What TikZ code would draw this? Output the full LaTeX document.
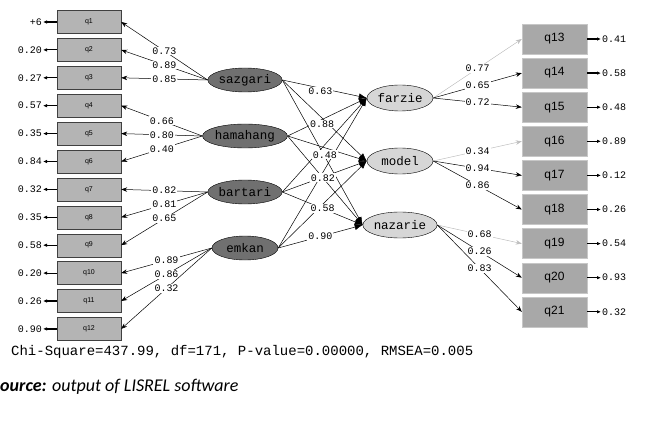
\documentclass[tikz,border=0pt]{standalone}
\usepackage{fontspec}
\setmainfont{Liberation Sans}
\setsansfont{Liberation Sans}
\setmonofont{Liberation Mono}
\newfontfamily\srcfont{Carlito}
\usetikzlibrary{arrows.meta,shapes.geometric}
\definecolor{colObsL}{RGB}{180,180,180}
\definecolor{colObsR}{RGB}{168,168,168}
\definecolor{colKsi}{RGB}{112,112,112}
\definecolor{colEta}{RGB}{214,214,214}
\definecolor{colFix}{RGB}{190,190,190}

\begin{document}
\begin{tikzpicture}[x=1pt, y=-1pt,
    obsL/.style={draw=black!75, fill=colObsL, minimum width=64pt, minimum height=23pt,
      inner sep=0pt, font=\sffamily\fontsize{7}{7}\selectfont},
    obsR/.style={draw=black!22, fill=colObsR, minimum width=65pt, minimum height=30pt,
      inner sep=0pt, font=\sffamily\fontsize{12}{12}\selectfont},
    ksi/.style={ellipse, draw, fill=colKsi, minimum width=66pt, minimum height=24pt,
      inner sep=0pt, font=\ttfamily\fontsize{12.5}{12.5}\selectfont},
    eta/.style={ellipse, draw, fill=colEta, minimum width=66pt, minimum height=26pt,
      inner sep=0pt, font=\ttfamily\fontsize{12.5}{12.5}\selectfont},
    load/.style={-{Stealth[length=6pt,width=4.5pt]}, line width=0.5pt},
    fixd/.style={load, draw=colFix},
    gam/.style={-{Latex[length=8pt,width=6pt]}, line width=0.5pt},
    coef/.style={fill=white, inner sep=1pt, font=\ttfamily\fontsize{10}{10}\selectfont},
    err/.style={inner sep=1pt, font=\ttfamily\fontsize{10}{10}\selectfont},
    erra/.style={-{Latex[length=4pt,width=3.5pt]}, line width=1.2pt}]
  \useasboundingbox (0,0) rectangle (672,425);

  % indicators of the exogenous factors, with their error values
  \foreach \i/\v in {1/+6, 2/0.20, 3/0.27, 4/0.57, 5/0.35, 6/0.84,
                     7/0.32, 8/0.35, 9/0.58, 10/0.20, 11/0.26, 12/0.90} {
    \node[obsL] (q\i) at (89,{22+27.9*(\i-1)}) {q\i};
    \node[err, anchor=east] (d\i) at (43,{22+27.9*(\i-1)}) {\v};
    \draw[erra] (q\i.west) -- (d\i.east);
  }

  % indicators of the endogenous factors
  \foreach \j/\v in {13/0.41, 14/0.58, 15/0.48, 16/0.89, 17/0.12,
                     18/0.26, 19/0.54, 20/0.93, 21/0.32} {
    \node[obsR] (q\j) at (554.5,{39+34.1*(\j-13)}) {q\j};
    \node[err, anchor=west] (d\j) at (601,{39+34.1*(\j-13)}) {\v};
    \draw[erra] (q\j.east) -- (d\j.west);
  }

  % latent variables
  \node[ksi] (sazgari)  at (245,80)  {sazgari};
  \node[ksi] (hamahang) at (245,136) {hamahang};
  \node[ksi] (bartari)  at (245,192) {bartari};
  \node[ksi] (emkan)    at (245,248) {emkan};
  \node[eta] (farzie)   at (400,98)  {farzie};
  \node[eta] (model)    at (400,161) {model};
  \node[eta, minimum width=68pt] (nazarie) at (400,225) {nazarie};

  % structural paths without printed values
  \foreach \a/\b in {sazgari/nazarie, hamahang/farzie, bartari/farzie,
                     bartari/model, emkan/farzie, emkan/model}
    \draw[gam] (\a.east) -- (\b.west);
  % structural paths with values
  \draw[gam] (sazgari.east)  -- node[coef, pos=0.45, yshift=-3pt] {0.63} (farzie.west);
  \draw[gam] (sazgari.east)  -- node[coef, pos=0.47, yshift=-6pt] {0.88} (model.west);
  \draw[gam] (hamahang.east) -- node[coef, pos=0.47, yshift=-7pt] {0.48} (model.west);
  \draw[gam] (hamahang.east) -- node[coef, pos=0.47] {0.82} (nazarie.west);
  \draw[gam] (bartari.east)  -- node[coef, pos=0.50] {0.58} (nazarie.west);
  \draw[gam] (emkan.east)    -- node[coef, pos=0.50] {0.90} (nazarie.west);

  % loadings, left side
  \foreach \f/\q/\c in {sazgari/1/0.73, sazgari/2/0.89, sazgari/3/0.85,
                        hamahang/4/0.66, hamahang/5/0.80, hamahang/6/0.40,
                        bartari/7/0.82, bartari/8/0.81, bartari/9/0.65,
                        emkan/10/0.89, emkan/11/0.86, emkan/12/0.32}
    \draw[load] (\f.west) -- node[coef] {\c} (q\q.east);

  % loadings, right side (reference indicators in grey)
  \foreach \f/\q/\c/\s in {farzie/13/0.77/fixd, farzie/14/0.65/load, farzie/15/0.72/load,
                           model/16/0.34/fixd, model/17/0.94/load, model/18/0.86/load,
                           nazarie/19/0.68/fixd, nazarie/20/0.26/load, nazarie/21/0.83/load}
    \draw[\s] (\f.east) -- node[coef] {\c} (q\q.west);

  % fit statistics and source
  \node[anchor=west, inner sep=0pt, font=\ttfamily\fontsize{14}{14}\selectfont] (fit)
    at (11,352) {Chi-Square=437.99, df=171, P-value=0.00000, RMSEA=0.005};
  \node[anchor=west, inner sep=0pt, font=\srcfont\fontsize{18}{18}\selectfont] (src)
    at (0,387) {\textbf{\textit{ource:}} \textit{output of LISREL software}};
\end{tikzpicture}
\end{document}
